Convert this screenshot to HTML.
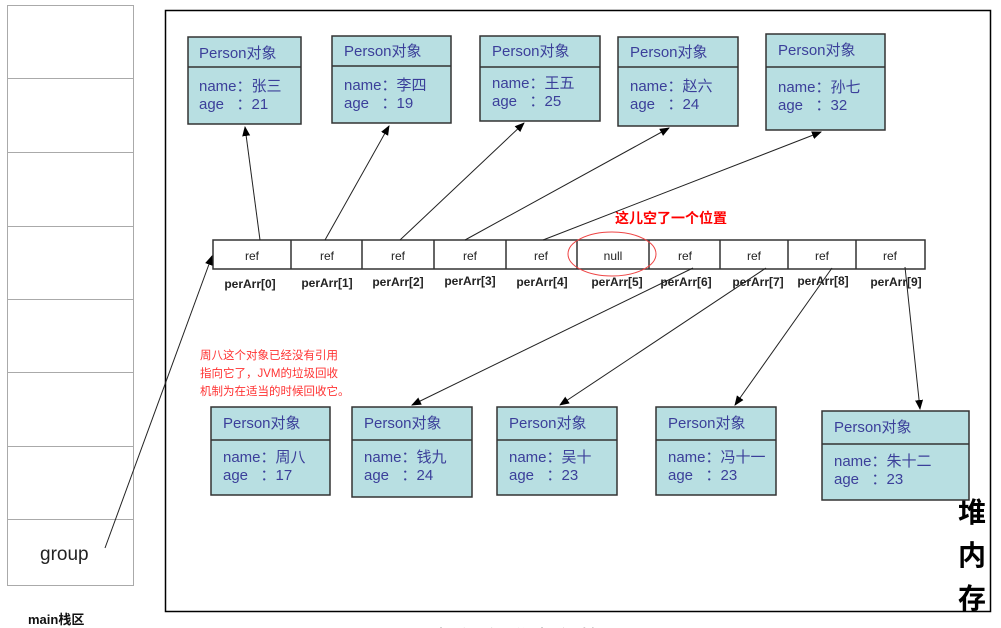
<!DOCTYPE html>
<html><head><meta charset="utf-8"><style>
html,body{margin:0;padding:0;background:#fff;width:1001px;height:628px;overflow:hidden}
svg text{font-family:"Liberation Sans","Noto Sans CJK SC",sans-serif}
</style></head><body>
<svg width="1001" height="628" viewBox="0 0 1001 628" xmlns="http://www.w3.org/2000/svg">
<defs><marker id="a" markerWidth="10" markerHeight="10" refX="9" refY="5" orient="auto" markerUnits="userSpaceOnUse"><path d="M0,1 L10,5 L0,9 z" fill="#000"/></marker></defs>
<rect x="7.5" y="5.5" width="126" height="580" fill="#fff" stroke="#aaa"/>
<g stroke="#aaa"><line x1="7" y1="78.5" x2="133" y2="78.5"/><line x1="7" y1="152.5" x2="133" y2="152.5"/><line x1="7" y1="226.5" x2="133" y2="226.5"/><line x1="7" y1="299.5" x2="133" y2="299.5"/><line x1="7" y1="372.5" x2="133" y2="372.5"/><line x1="7" y1="446.5" x2="133" y2="446.5"/><line x1="7" y1="519.5" x2="133" y2="519.5"/></g>
<text x="40" y="560" font-size="19" fill="#222">group</text>
<text x="28" y="624" font-size="13" font-weight="bold" fill="#111">main栈区</text>
<rect x="165.5" y="10.5" width="825" height="601" fill="none" stroke="#000" stroke-width="1.5"/>
<g font-size="28" font-weight="bold" fill="#000"><text x="958" y="522">堆</text><text x="958" y="565">内</text><text x="958" y="608">存</text></g>
<text x="370" y="648" font-size="24" fill="#333">图3.6 数组在堆内存的原理</text>
<g stroke="#333" stroke-width="1.5" fill="#b8dfe2">
<rect x="188" y="37" width="113" height="87"/><line x1="188" y1="67" x2="301" y2="67"/>
<rect x="332" y="36" width="119" height="87"/><line x1="332" y1="66" x2="451" y2="66"/>
<rect x="480" y="36" width="120" height="85"/><line x1="480" y1="67" x2="600" y2="67"/>
<rect x="618" y="37" width="120" height="89"/><line x1="618" y1="67" x2="738" y2="67"/>
<rect x="766" y="34" width="119" height="96"/><line x1="766" y1="67" x2="885" y2="67"/>
<rect x="211" y="407" width="119" height="88"/><line x1="211" y1="440" x2="330" y2="440"/>
<rect x="352" y="407" width="120" height="90"/><line x1="352" y1="440" x2="472" y2="440"/>
<rect x="497" y="407" width="120" height="88"/><line x1="497" y1="440" x2="617" y2="440"/>
<rect x="656" y="407" width="120" height="88"/><line x1="656" y1="440" x2="776" y2="440"/>
<rect x="822" y="411" width="147" height="89"/><line x1="822" y1="444" x2="969" y2="444"/>
</g>
<g font-size="15" fill="#3b3f9a">
<text x="199" y="58">Person对象</text><text x="199" y="91">name：张三</text><text x="199" y="109">age&#160;&#160;&#160;：21</text>
<text x="344" y="56">Person对象</text><text x="344" y="90">name：李四</text><text x="344" y="108">age&#160;&#160;&#160;：19</text>
<text x="492" y="56">Person对象</text><text x="492" y="88">name：王五</text><text x="492" y="106">age&#160;&#160;&#160;：25</text>
<text x="630" y="57">Person对象</text><text x="630" y="91">name：赵六</text><text x="630" y="109">age&#160;&#160;&#160;：24</text>
<text x="778" y="55">Person对象</text><text x="778" y="92">name：孙七</text><text x="778" y="110">age&#160;&#160;&#160;：32</text>
<text x="223" y="428">Person对象</text><text x="223" y="462">name：周八</text><text x="223" y="480">age&#160;&#160;&#160;：17</text>
<text x="364" y="428">Person对象</text><text x="364" y="462">name：钱九</text><text x="364" y="480">age&#160;&#160;&#160;：24</text>
<text x="509" y="428">Person对象</text><text x="509" y="462">name：吴十</text><text x="509" y="480">age&#160;&#160;&#160;：23</text>
<text x="668" y="428">Person对象</text><text x="668" y="462">name：冯十一</text><text x="668" y="480">age&#160;&#160;&#160;：23</text>
<text x="834" y="432">Person对象</text><text x="834" y="466">name：朱十二</text><text x="834" y="484">age&#160;&#160;&#160;：23</text>
</g>
<rect x="213" y="240" width="712" height="29" fill="#fff" stroke="#333" stroke-width="1.5"/>
<g stroke="#333" stroke-width="1.5"><line x1="291" y1="240" x2="291" y2="269"/><line x1="362" y1="240" x2="362" y2="269"/><line x1="434" y1="240" x2="434" y2="269"/><line x1="506" y1="240" x2="506" y2="269"/><line x1="577" y1="240" x2="577" y2="269"/><line x1="649" y1="240" x2="649" y2="269"/><line x1="720" y1="240" x2="720" y2="269"/><line x1="788" y1="240" x2="788" y2="269"/><line x1="856" y1="240" x2="856" y2="269"/></g>
<g font-size="12" fill="#222" text-anchor="middle">
<text x="252" y="260">ref</text><text x="327" y="260">ref</text><text x="398" y="260">ref</text><text x="470" y="260">ref</text><text x="541" y="260">ref</text><text x="613" y="260">null</text><text x="685" y="260">ref</text><text x="754" y="260">ref</text><text x="822" y="260">ref</text><text x="890" y="260">ref</text>
</g>
<g font-size="12" font-weight="bold" fill="#222" text-anchor="middle">
<text x="250" y="288">perArr[0]</text><text x="327" y="287">perArr[1]</text><text x="398" y="286">perArr[2]</text><text x="470" y="285">perArr[3]</text><text x="542" y="286">perArr[4]</text><text x="617" y="286">perArr[5]</text><text x="686" y="286">perArr[6]</text><text x="758" y="286">perArr[7]</text><text x="823" y="285">perArr[8]</text><text x="896" y="286">perArr[9]</text>
</g>
<ellipse cx="612" cy="254" rx="44" ry="22" fill="none" stroke="#e44" stroke-width="1"/>
<text x="615" y="223" font-size="14" font-weight="bold" fill="#f00">这儿空了一个位置</text>
<g font-size="11.5" fill="#f33"><text x="200" y="359">周八这个对象已经没有引用</text><text x="200" y="377">指向它了，JVM的垃圾回收</text><text x="200" y="395">机制为在适当的时候回收它。</text></g>
<g stroke="#222" stroke-width="1" marker-end="url(#a)">
<line x1="260" y1="240" x2="245" y2="127"/>
<line x1="325" y1="240" x2="389" y2="126"/>
<line x1="400" y1="240" x2="524" y2="123"/>
<line x1="465" y1="240" x2="669" y2="128"/>
<line x1="543" y1="240" x2="821" y2="132"/>
<line x1="693" y1="268" x2="412" y2="405"/>
<line x1="766" y1="268" x2="560" y2="405"/>
<line x1="832" y1="268" x2="735" y2="405"/>
<line x1="905" y1="267" x2="920" y2="409"/>
<line x1="105" y1="548" x2="212" y2="256"/>
</g>
</svg>
</body></html>
